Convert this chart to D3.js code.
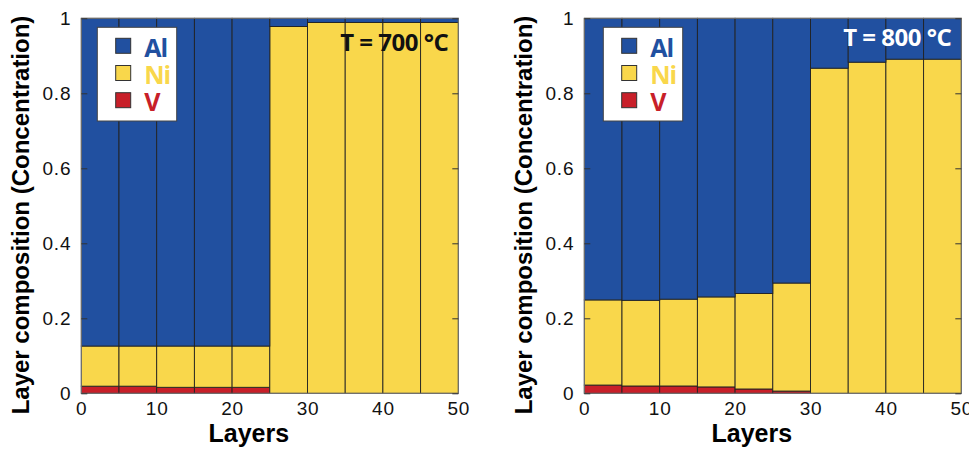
<!DOCTYPE html>
<html>
<head>
<meta charset="utf-8">
<script src="https://cdn.jsdelivr.net/npm/d3@7"></script>
<style>
  body { margin: 0; background: #fff; }
  svg text { font-family: "Liberation Sans", Arial, sans-serif; }
</style>
</head>
<body>
<svg id="chart" width="969" height="451"></svg>
<script>
// layer bins (start of each 5-layer slab)
var layers = [0, 5, 10, 15, 20, 25, 30, 35, 40, 45];
var elements = ['V', 'Ni', 'Al'];

// T = 700 C
var v700  = [0.019, 0.019, 0.016, 0.016, 0.016, 0, 0, 0, 0, 0];
var ni700 = [0.107, 0.107, 0.110, 0.110, 0.110, 0.978, 0.989, 0.989, 0.989, 0.989];
var al700 = [0.874, 0.874, 0.874, 0.874, 0.874, 0.022, 0.011, 0.011, 0.011, 0.011];

// T = 800 C
var v800  = [0.022, 0.0195, 0.0195, 0.017, 0.0115, 0.006, 0, 0, 0, 0];
var ni800 = [0.227, 0.2285, 0.2315, 0.240, 0.2545, 0.288, 0.867, 0.883, 0.891, 0.891];
var al800 = [0.751, 0.752, 0.749, 0.743, 0.734, 0.706, 0.133, 0.117, 0.109, 0.109];

var xTicks = [0, 10, 20, 30, 40, 50];
var yTicks = [0, 0.2, 0.4, 0.6, 0.8, 1];

var colors = { Al: '#2150a0', Ni: '#f9d74b', V: '#c81f29' };

var svg = d3.select('#chart');

var panels = [
    { x0: 81.3, v: v700, ni: ni700, al: al700, label: 'T = 700 °C', labelFill: '#111', labelY: 50.5, legX: 16 },
    { x0: 584.3, v: v800, ni: ni800, al: al800, label: 'T = 800 °C', labelFill: '#fff', labelY: 45.7, legX: 19 }
];

var plotW = 377, plotTop = 18.3, plotBottom = 393.3;

panels.forEach(function (p) {
    var x = d3.scaleLinear().domain([0, 50]).range([p.x0, p.x0 + plotW]);
    var y = d3.scaleLinear().domain([0, 1]).range([plotBottom, plotTop]);

    var rows = layers.map(function (l, i) {
        return { layer: l, V: p.v[i], Ni: p.ni[i], Al: p.al[i] };
    });
    var series = d3.stack().keys(elements)(rows);

    var g = svg.append('g');

    series.forEach(function (s) {
        g.selectAll(null)
            .data(s)
            .enter()
            .append('rect')
            .attr('x', function (d) { return x(d.data.layer); })
            .attr('width', function (d) { return x(d.data.layer + 5) - x(d.data.layer); })
            .attr('y', function (d) { return y(d[1]); })
            .attr('height', function (d) { return Math.max(0, y(d[0]) - y(d[1])); })
            .style('fill', colors[s.key])
            .style('stroke', function (d) { return (d[1] - d[0]) > 0 ? '#222' : 'none'; })
            .style('stroke-width', 0.9);
    });

    // frame
    g.append('rect')
        .attr('x', p.x0).attr('y', plotTop)
        .attr('width', plotW).attr('height', plotBottom - plotTop)
        .style('fill', 'none')
        .style('stroke', '#777')
        .style('stroke-width', 1);

    // y axes (left labels, inward ticks on both sides)
    var yl = d3.axisLeft(y).tickValues(yTicks).tickSize(-6).tickPadding(10)
        .tickFormat(function (d) { return d === 0 || d === 1 ? d3.format('d')(d) : d3.format('.1f')(d); });
    g.append('g').attr('transform', 'translate(' + p.x0 + ',0)').call(yl)
        .call(function (a) { a.select('.domain').remove(); })
        .selectAll('text').style('font-size', '19px').style('letter-spacing', '0.8px').style('fill', '#111');
    g.append('g').attr('transform', 'translate(' + (p.x0 + plotW) + ',0)')
        .call(d3.axisRight(y).tickValues(yTicks).tickSize(-6).tickFormat(''))
        .call(function (a) { a.select('.domain').remove(); });

    // x axis
    var xa = d3.axisBottom(x).tickValues(xTicks).tickSize(0).tickPadding(8);
    g.append('g').attr('transform', 'translate(0,' + plotBottom + ')').call(xa)
        .call(function (a) { a.select('.domain').remove(); })
        .selectAll('text').style('font-size', '19px').style('letter-spacing', '0.8px').style('fill', '#111');

    g.selectAll('.tick line').style('stroke', '#333');

    // axis titles
    g.append('text')
        .attr('x', x(25) - 21).attr('y', 442)
        .style('text-anchor', 'middle')
        .style('font-size', '25px').style('font-weight', 'bold')
        .text('Layers');
    g.append('text')
        .attr('transform', 'translate(' + (p.x0 - 52) + ',215) rotate(-90)')
        .style('text-anchor', 'middle')
        .style('font-size', '24px').style('font-weight', 'bold')
        .text('Layer composition (Concentration)');

    // temperature label
    g.append('text')
        .attr('x', p.x0 + plotW - 10).attr('y', p.labelY)
        .style('text-anchor', 'end')
        .style('font-family', '"Open Sans", sans-serif')
        .style('font-size', '24px').style('font-weight', 'bold')
        .style('letter-spacing', '-0.5px')
        .style('fill', p.labelFill)
        .text(p.label);

    // legend
    var lg = g.append('g').attr('transform', 'translate(' + (p.x0 + p.legX) + ',27.3)');
    lg.append('rect').attr('width', 79.4).attr('height', 93.7)
        .style('fill', '#fff').style('stroke', '#444').style('stroke-width', 1);
    ['Al', 'Ni', 'V'].forEach(function (k, i) {
        var cy = 18.5 + i * 27.2;
        lg.append('rect').attr('x', 18.4).attr('y', cy - 7.5).attr('width', 15).attr('height', 15)
            .style('fill', colors[k]).style('stroke', '#333').style('stroke-width', 1);
        lg.append('text').attr('x', 47).attr('y', cy + 11)
            .style('font-family', '"Open Sans", sans-serif')
            .style('font-size', '25px').style('font-weight', 'bold')
            .style('letter-spacing', '-1px')
            .style('fill', colors[k])
            .text(k);
    });
});
</script>
</body>
</html>
